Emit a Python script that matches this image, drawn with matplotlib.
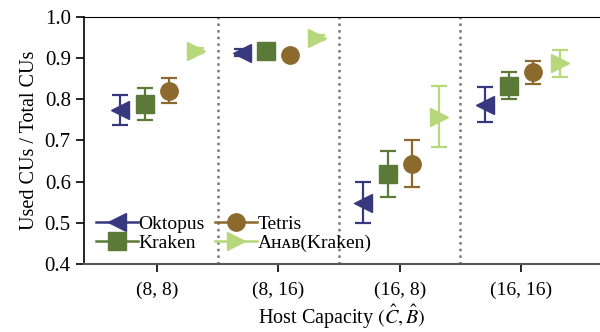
import numpy as np
import matplotlib.pyplot as plt
from matplotlib.lines import Line2D

plt.rcParams['font.family'] = ['Liberation Serif', 'DejaVu Serif']
plt.rcParams['mathtext.fontset'] = 'stix'

groups = ["(8, 8)", "(8, 16)", "(16, 8)", "(16, 16)"]
names = ["Oktopus", "Kraken", "Tetris", "Aʜᴀʙ(Kraken)"]
colors = ["#38387f", "#5b7a38", "#8c6a2e", "#b6d77a"]
markers = ["<", "s", "o", ">"]

# mean, lower, upper per group
oktopus = [0.773, 0.913, 0.548, 0.787]
oktopus_lo = [0.737, 0.905, 0.500, 0.745]
oktopus_hi = [0.810, 0.921, 0.598, 0.830]

kraken = [0.788, 0.918, 0.618, 0.833]
kraken_lo = [0.750, 0.913, 0.562, 0.800]
kraken_hi = [0.827, 0.923, 0.675, 0.866]

tetris = [0.820, 0.907, 0.643, 0.866]
tetris_lo = [0.790, 0.902, 0.587, 0.838]
tetris_hi = [0.852, 0.912, 0.700, 0.893]

ahab = [0.918, 0.950, 0.757, 0.888]
ahab_lo = [0.912, 0.944, 0.683, 0.855]
ahab_hi = [0.924, 0.956, 0.832, 0.920]

series = [(oktopus, oktopus_lo, oktopus_hi),
          (kraken, kraken_lo, kraken_hi),
          (tetris, tetris_lo, tetris_hi),
          (ahab, ahab_lo, ahab_hi)]
offsets = [-0.3, -0.1, 0.1, 0.32]

fig = plt.figure(figsize=(6, 3.32), dpi=100)
ax = fig.add_axes([0.14, 0.205, 0.86, 0.744])

x = np.arange(len(groups))
handles = []
for (vals, lo, hi), name, c, m, off in zip(series, names, colors, markers, offsets):
    vals = np.array(vals)
    err = [vals - np.array(lo), np.array(hi) - vals]
    ax.errorbar(x + off, vals, yerr=err, fmt=m, color=c, ms=12.5, capsize=5.5,
                elinewidth=1.6, capthick=1.6)
    handles.append(Line2D([], [], color=c, marker=m, ms=12.5, lw=1.8, label=name))

for b in [0.5, 1.5, 2.5]:
    ax.axvline(b, color="#777777", ls=":", lw=1.8)

ax.set_xlim(-0.6, 3.65)
ax.set_ylim(0.4, 1.0)
ax.set_xticks(x)
ax.set_xticklabels(groups)
ax.set_yticks([0.4, 0.5, 0.6, 0.7, 0.8, 0.9, 1.0])
ax.tick_params(labelsize=15, length=6, width=1.2)
ax.tick_params(axis='x', pad=7, labelsize=14)
ax.spines['right'].set_visible(False)
ax.spines['bottom'].set_color("#555555")
ax.spines['bottom'].set_linewidth(1.5)
ax.spines['left'].set_linewidth(1.2)
ax.set_ylabel("Used CUs / Total CUs", fontsize=14.5)
ax.set_xlabel(r"Host Capacity $(\hat{C}, \hat{B})$", fontsize=14.5, labelpad=3)

ax.legend(handles=handles, loc="lower left", ncol=2, frameon=False, fontsize=14,
          handletextpad=0.0, columnspacing=0.5, labelspacing=0.1,
          handlelength=2.2, borderaxespad=0.2, bbox_to_anchor=(0.0, 0.0))

fig.savefig("out.png", dpi=100)
